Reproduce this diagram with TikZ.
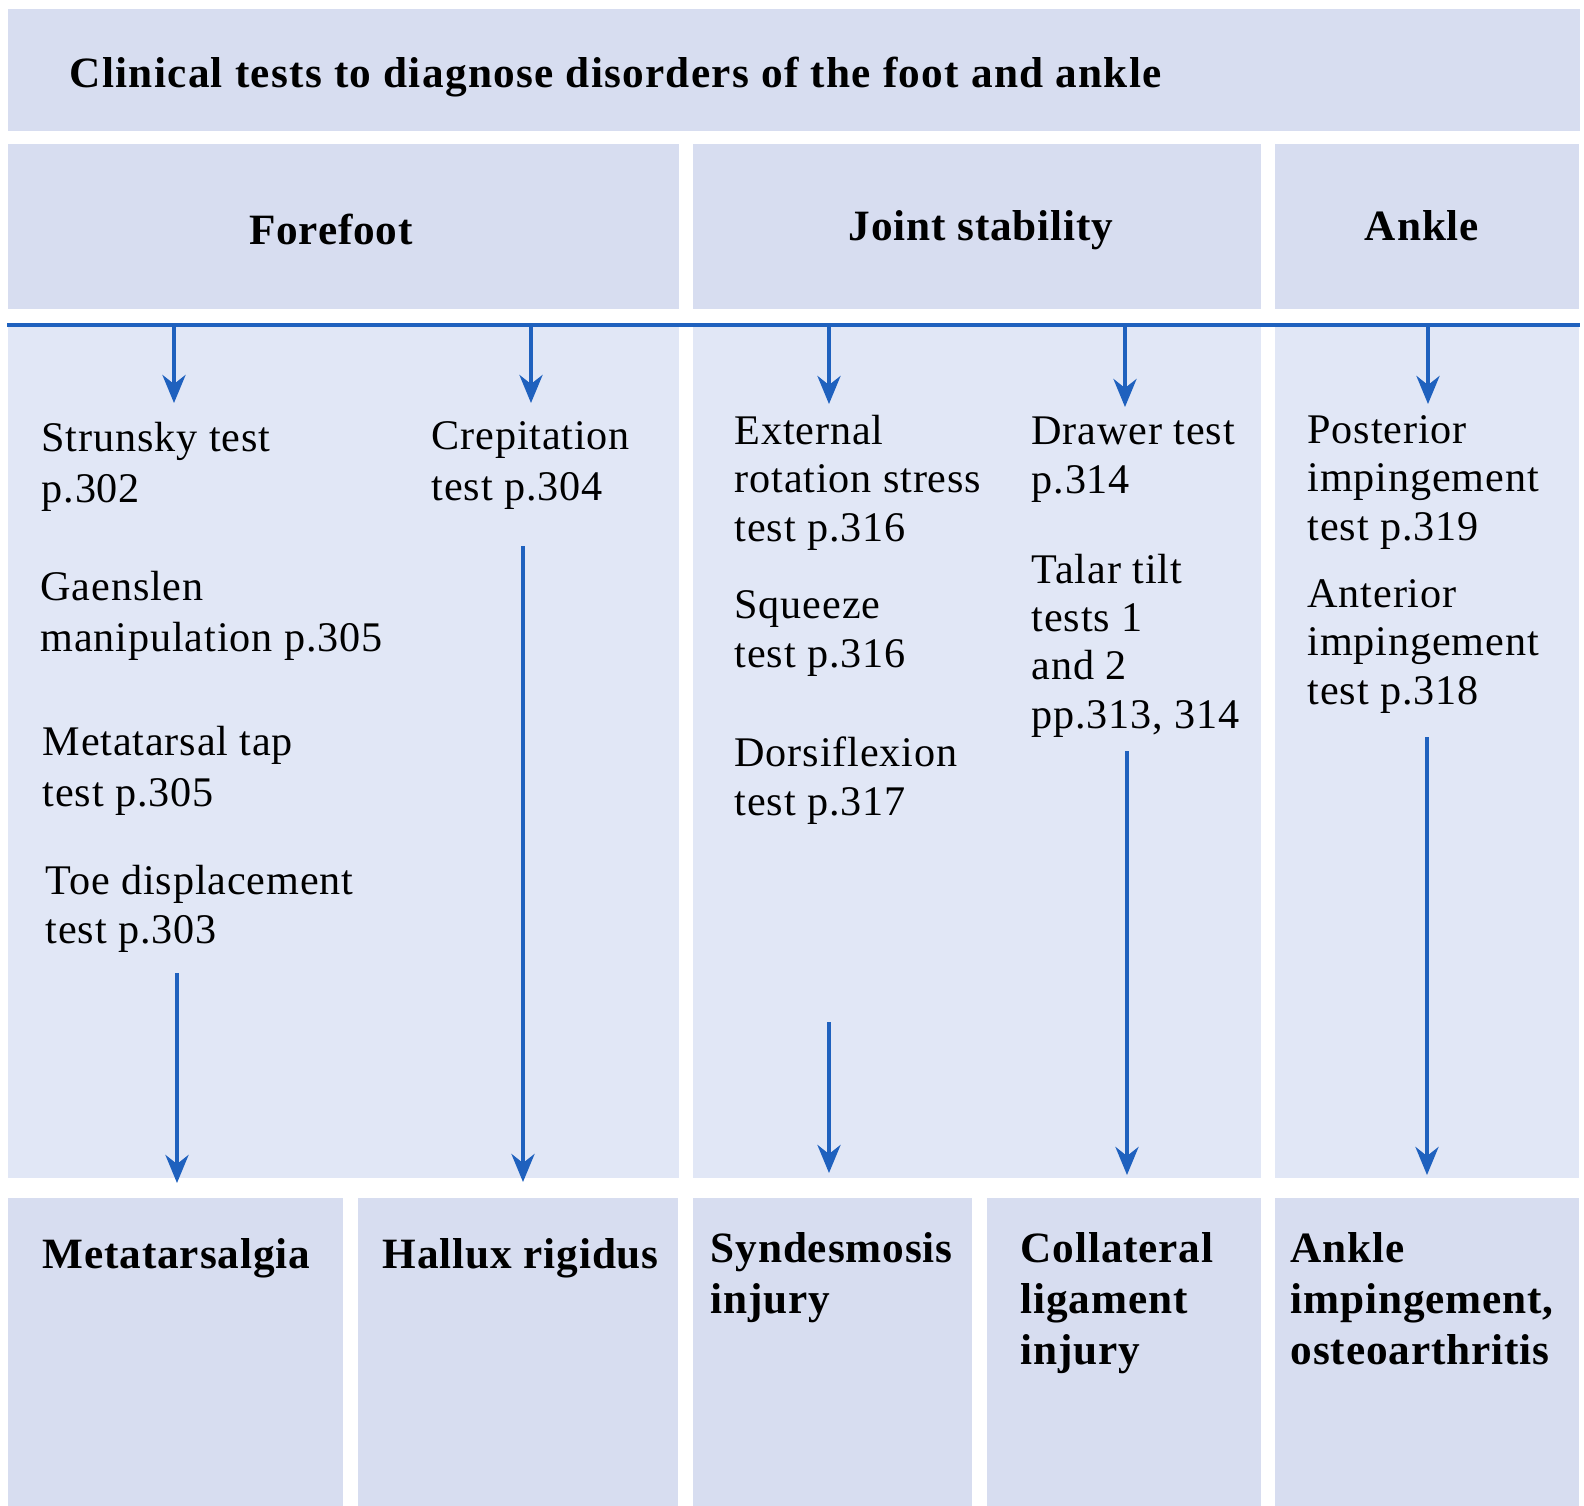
\documentclass[tikz,border=0pt]{standalone}
\usepackage{fontspec}
\setmainfont{Liberation Serif}[LetterSpace=2]
\usetikzlibrary{arrows.meta}

\definecolor{boxfill}{RGB}{215,221,240}
\definecolor{panelfill}{RGB}{225,231,246}
\definecolor{linkblue}{RGB}{31,97,190}

\begin{document}
\begin{tikzpicture}[x=0.01cm,y=-0.01cm,>={Stealth[length=8pt,width=6.6pt,inset=2.6pt]},
  box/.style={fill=boxfill,draw=none,inner sep=0,anchor=north west},
  panel/.style={fill=panelfill,draw=none,inner sep=0,anchor=north west},
  test/.style={anchor=base west,inner sep=0,align=left,font=\fontsize{12}{13.7}\selectfont},
  foretest/.style={test,font=\fontsize{12}{14.3}\selectfont},
  result/.style={anchor=base west,inner sep=0,align=left,font=\fontsize{12.3}{14.5}\selectfont\bfseries},
  heading/.style={anchor=base,inner sep=0,font=\fontsize{12.3}{14.5}\selectfont\bfseries},
  link/.style={->,draw=linkblue,line width=0.9pt}]
  \useasboundingbox (0,0) rectangle (1584,1505);

  % title bar and column heads
  \node[box,minimum width=15.71cm,minimum height=1.22cm] (titlebox) at (7,8) {};
  \node[box,minimum width=6.71cm,minimum height=1.65cm] (forehead) at (7,143) {};
  \node[box,minimum width=5.68cm,minimum height=1.65cm] (jointhead) at (692,143) {};
  \node[box,minimum width=3.04cm,minimum height=1.65cm] (anklehead) at (1274,143) {};
  \node[heading,anchor=base west,font=\fontsize{12.3}{14.5}\selectfont\bfseries\addfontfeature{LetterSpace=3}]
    (title) at (69,87) {Clinical tests to diagnose disorders of the foot and ankle};
  \node[heading] (fore) at (331,244) {Forefoot};
  \node[heading] (joint) at (981,240) {Joint stability};
  \node[heading] (ankle) at (1422,240) {Ankle};

  % test panels (multi-line nodes sit on their last baseline)
  \node[panel,minimum width=6.71cm,minimum height=8.52cm] (forepanel) at (7,325) {};
  \node[panel,minimum width=5.68cm,minimum height=8.52cm] (jointpanel) at (692,325) {};
  \node[panel,minimum width=3.04cm,minimum height=8.52cm] (anklepanel) at (1274,325) {};
  \draw[linkblue,line width=1pt] (forepanel.north west) -- (anklepanel.north east);

  \node[foretest] (strunsky) at (41,502) {Strunsky test\\p.302};
  \node[foretest] (gaenslen) at (40,651) {Gaenslen\\manipulation p.305};
  \node[foretest] (metatap) at (42,806) {Metatarsal tap\\test p.305};
  \node[test] (toedisp) at (45,943) {Toe displacement\\test p.303};
  \node[foretest] (crepit) at (431,500) {Crepitation\\test p.304};
  \node[test] (external) at (734,541) {External\\rotation stress\\test p.316};
  \node[test] (squeeze) at (734,667) {Squeeze\\test p.316};
  \node[test] (dorsi) at (734,815) {Dorsiflexion\\test p.317};
  \node[test] (drawer) at (1031,493) {Drawer test\\p.314};
  \node[test] (talar) at (1031,728) {Talar tilt\\tests 1\\and 2\\pp.313, 314};
  \node[test] (posterior) at (1307,540) {Posterior\\impingement\\test p.319};
  \node[test] (anterior) at (1307,704) {Anterior\\impingement\\test p.318};

  % diagnoses
  \node[box,minimum width=3.35cm,minimum height=3.08cm] (metabox) at (7,1197) {};
  \node[box,minimum width=3.20cm,minimum height=3.08cm] (halbox) at (357,1197) {};
  \node[box,minimum width=2.79cm,minimum height=3.08cm] (syndbox) at (692,1197) {};
  \node[box,minimum width=2.74cm,minimum height=3.08cm] (collbox) at (986,1197) {};
  \node[box,minimum width=3.04cm,minimum height=3.08cm] (impbox) at (1274,1197) {};
  \node[result] (meta) at (42,1268) {Metatarsalgia};
  \node[result] (hallux) at (382,1268) {Hallux rigidus};
  \node[result] (synd) at (710,1313) {Syndesmosis\\injury};
  \node[result] (coll) at (1020,1364) {Collateral\\ligament\\injury};
  \node[result] (imp) at (1290,1364) {Ankle\\impingement,\\osteoarthritis};

  % arrow ends
  \coordinate (s1) at (174,325); \coordinate (t1) at (174,403);
  \coordinate (s2) at (531,325); \coordinate (t2) at (531,403);
  \coordinate (s3) at (829,325); \coordinate (t3) at (829,404);
  \coordinate (s4) at (1125,325); \coordinate (t4) at (1125,407);
  \coordinate (s5) at (1428,325); \coordinate (t5) at (1428,404);
  \coordinate (b1) at (177,973);
  \coordinate (b2) at (523,546);
  \coordinate (b3) at (829,1022);
  \coordinate (b4) at (1127,751);
  \coordinate (b5) at (1427,737);

  \path[every edge/.style={link}]
    (s1) edge (t1)
    (s2) edge (t2)
    (s3) edge (t3)
    (s4) edge (t4)
    (s5) edge (t5)
    (b1) edge[shorten >=0.14cm] (b1 |- metabox.north)
    (b2) edge[shorten >=0.15cm] (b2 |- halbox.north)
    (b3) edge[shorten >=0.24cm] (b3 |- syndbox.north)
    (b4) edge[shorten >=0.22cm] (b4 |- collbox.north)
    (b5) edge[shorten >=0.22cm] (b5 |- impbox.north);
\end{tikzpicture}
\end{document}
